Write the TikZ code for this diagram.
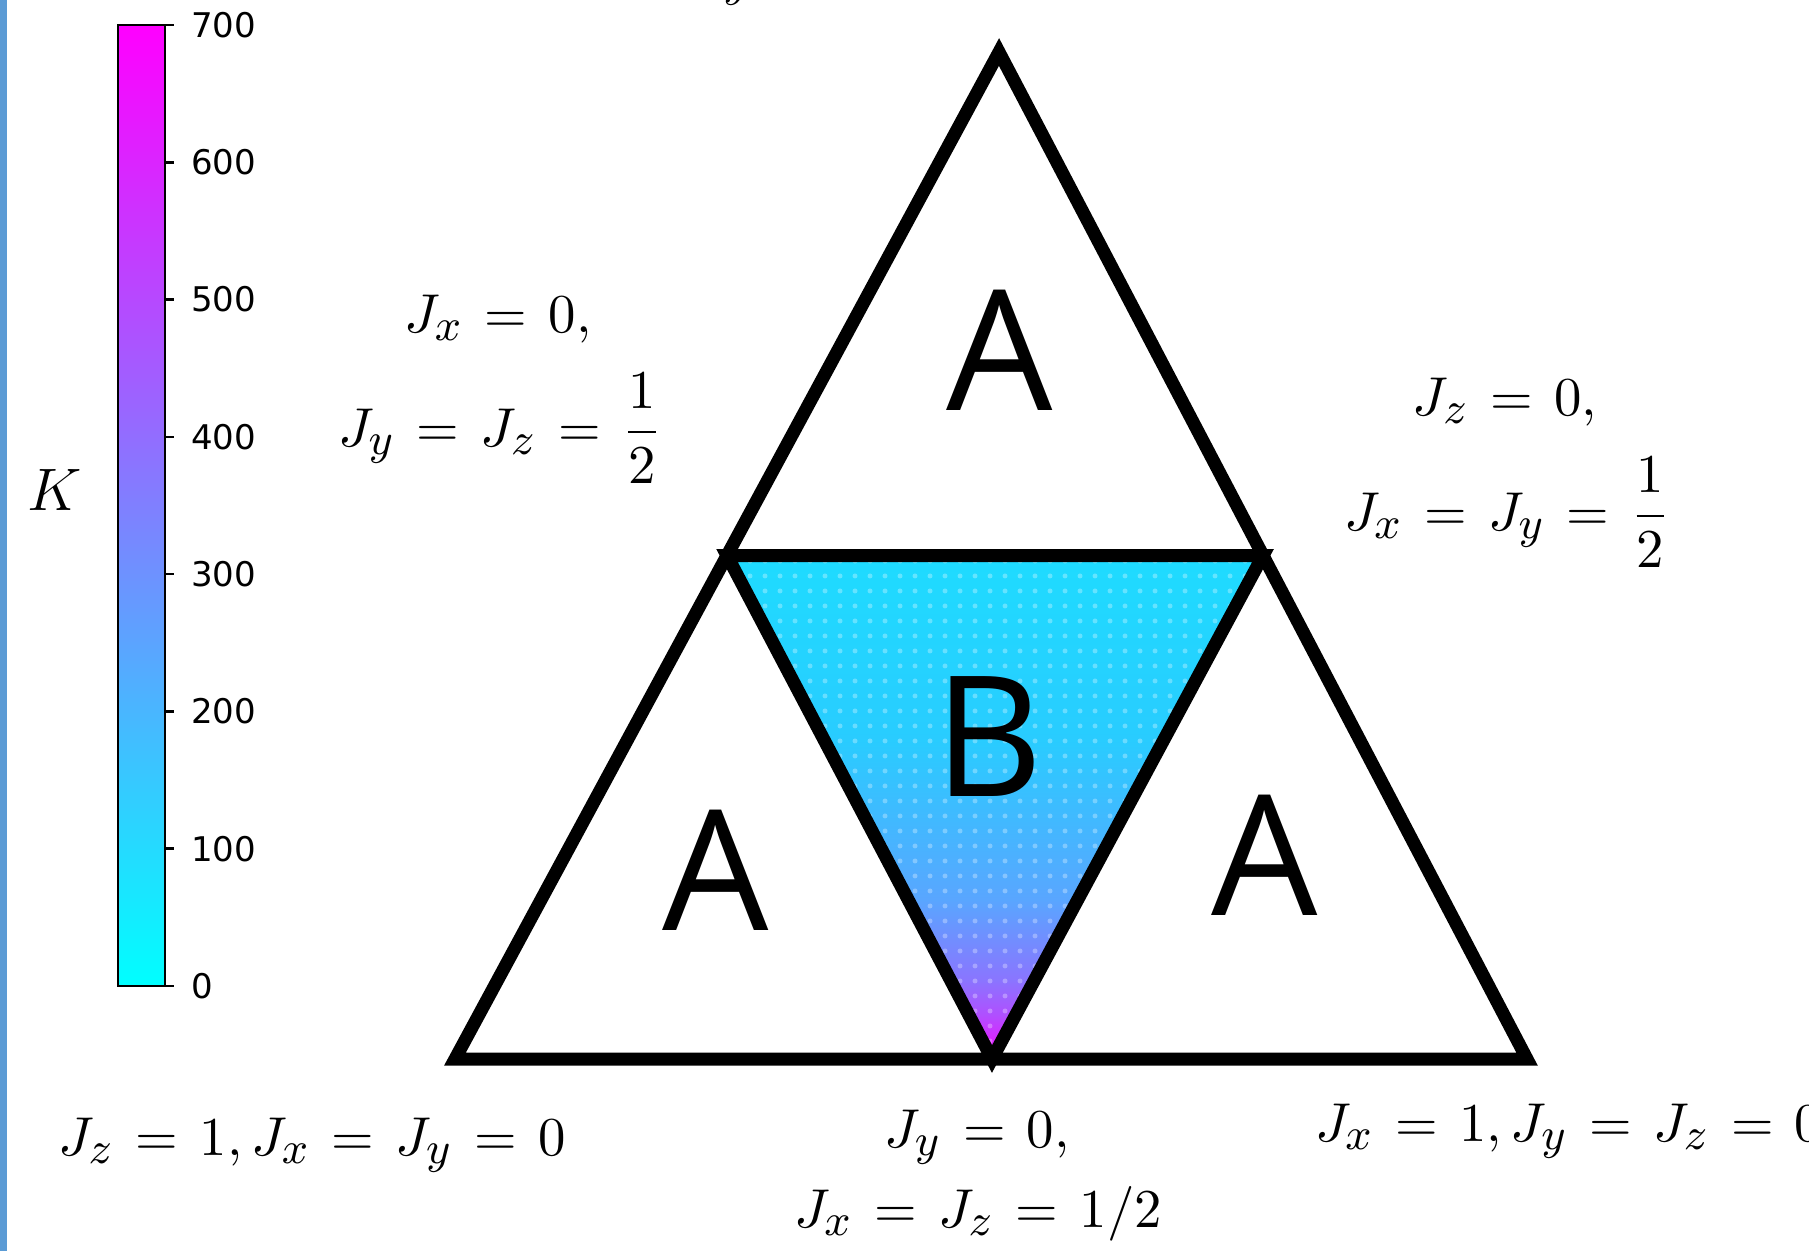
\documentclass[tikz,border=0pt]{standalone}
\usepackage{amsmath}
\usepackage{fontspec}
\usetikzlibrary{patterns}
\DeclareMathSizes{11}{11}{8.8}{7}
\newfontfamily\letterfont{Open Sans}
\newfontfamily\tickfont{DejaVu Sans}
\definecolor{sidebar}{RGB}{91,155,213}
\pgfdeclareverticalshading{bgrad}{100bp}{rgb(0bp)=(0.9,0.1,1); rgb(25bp)=(0.9,0.1,1); rgb(26.4bp)=(0.88,0.12,1); rgb(29.4bp)=(0.69,0.31,1); rgb(32.9bp)=(0.54,0.46,1); rgb(40.8bp)=(0.35,0.65,1); rgb(56.7bp)=(0.16,0.8,1); rgb(75bp)=(0.12,0.86,1); rgb(100bp)=(0.12,0.86,1)}
\newcommand\mylab[1]{\fontsize{11}{13}\selectfont$\thickmuskip=7mu plus 3mu #1$}
\tikzset{
  edge/.style={line width=2.6pt, line join=miter, draw=black},
  region/.style={inner sep=0pt, font=\letterfont\fontsize{33.6}{40}\selectfont},
  lab/.style={inner sep=0pt},
  tick/.style={line width=0.5pt, draw=black},
  ticklab/.style={inner sep=0pt, anchor=west, font=\tickfont\fontsize{6.8}{8}\selectfont}
}
\begin{document}
\begin{tikzpicture}[x=0.2pt, y=-0.2pt]
\useasboundingbox (0,0) rectangle (1809,1251);
% side bar
\fill[sidebar] (0,0) rectangle (7,1251);
% colorbar
\shade[bottom color=cyan, top color=magenta] (118,25) rectangle (165,986);
\draw[line width=0.4pt] (118,25) rectangle (165,986);
\foreach \v [count=\i from 0] in {0,100,200,300,400,500,600,700}{
  \coordinate (t\i) at (165,{986-\i*137.286});
  \draw[tick] (t\i) -- ++(9,0);
  \node[ticklab] (tl\i) at (190,{986-\i*137.286}) {\v};
}
\node[inner sep=0pt, font=\fontsize{13}{15}\selectfont] (K) at (55,490) {$K$};
% triangle vertices
\coordinate (P) at (999,52);
\coordinate (BL) at (455,1059);
\coordinate (BR) at (1527,1059);
\coordinate (LM) at (727,555.5);
\coordinate (RM) at (1263,555.5);
\coordinate (BM) at (992,1059);
% B region
\fill[shading=bgrad] (LM) -- (RM) -- (BM) -- cycle;
\fill[pattern=dots, pattern color=white, opacity=0.3] (LM) -- (RM) -- (BM) -- cycle;
% edges
\draw[edge] (P) -- (BL) -- (BR) -- cycle;
\draw[edge] (LM) -- (RM) -- (BM) -- cycle;
% region letters
\node[region] (A1) at (1000,350) {A};
\node[region] (A2) at (716,870) {A};
\node[region] (A3) at (1265,855) {A};
\node[region] (B) at (989,737) {B};
% labels
\node[lab, anchor=base west] (top) at (692,-12) {\mylab{J_y = 1, J_x = J_z = 0}};
\node[lab, anchor=base] (l1) at (498,332) {\mylab{J_x = 0,}};
\node[lab, anchor=base] (l2) at (500,446) {\mylab{J_y = J_z = \dfrac{1}{2}}};
\node[lab, anchor=base] (r1) at (1505,415) {\mylab{J_z = 0,}};
\node[lab, anchor=base] (r2) at (1507,530) {\mylab{J_x = J_y = \dfrac{1}{2}}};
\node[lab, anchor=base] (bl) at (312,1155) {\mylab{J_z = 1,J_x = J_y = 0}};
\node[lab, anchor=base] (bm1) at (977,1147) {\mylab{J_y = 0,}};
\node[lab, anchor=base] (bm2) at (978,1227) {\mylab{J_x = J_z = 1/2}};
\node[lab, anchor=base west] (br) at (1314,1141) {\mylab{J_x = 1,J_y = J_z = 0}};
\end{tikzpicture}
\end{document}
